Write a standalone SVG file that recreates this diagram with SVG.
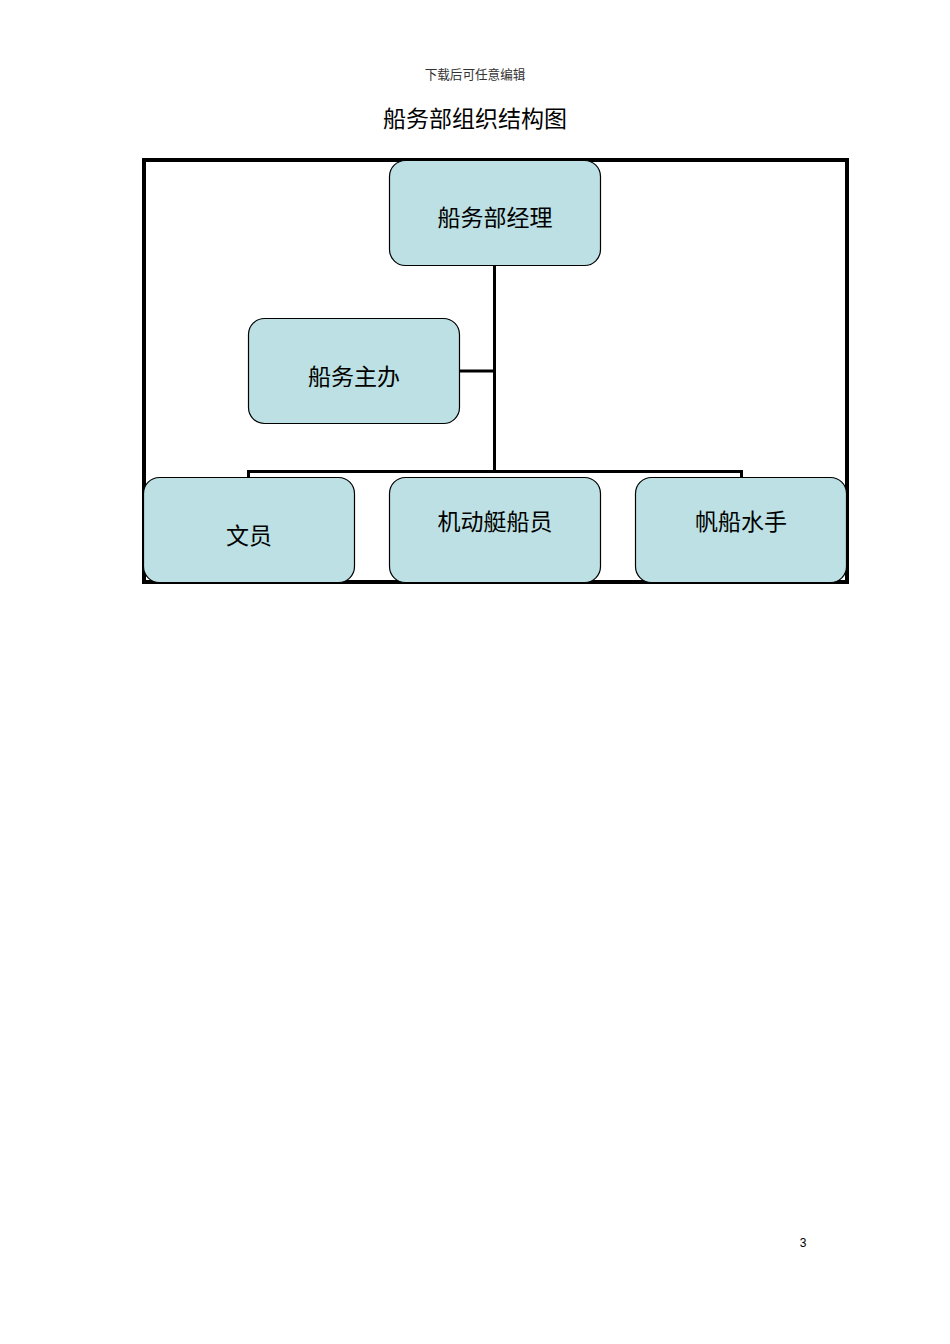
<svg xmlns="http://www.w3.org/2000/svg" width="950" height="1344" viewBox="0 0 950 1344">
<style>
.box{fill:#bce0e3;stroke:#000;stroke-width:1.2}
.lbl{font-family:"Noto Sans CJK SC","Liberation Sans",sans-serif;font-size:23px;fill:#000;text-anchor:middle;dominant-baseline:central}
.conn{fill:none;stroke:#000;stroke-width:3}
</style>
<rect width="950" height="1344" fill="#fff"/>
<text x="475" y="79" font-family="Noto Sans CJK SC, serif" font-size="12.6" fill="#333" text-anchor="middle">下载后可任意编辑</text>
<text x="475" y="127" font-family="Noto Sans CJK SC, sans-serif" font-size="23" fill="#000" text-anchor="middle">船务部组织结构图</text>
<rect id="frame" x="144" y="160" width="703" height="422" fill="none" stroke="#000" stroke-width="4"/>
<g id="connectors">
<path class="conn" d="M494.5 266 V471"/>
<path class="conn" d="M460 371 H494.5"/>
<path class="conn" d="M248.5 478 V471.5 H741.5 V478"/>
</g>
<g id="n1"><rect class="box" x="389.5" y="160.5" width="211" height="105" rx="16"/><text class="lbl" x="495" y="216">船务部经理</text></g>
<g id="n2"><rect class="box" x="248.5" y="318.5" width="211" height="105" rx="16"/><text class="lbl" x="354" y="375">船务主办</text></g>
<g id="n3"><rect class="box" x="143.5" y="477.5" width="211" height="105" rx="16"/><text class="lbl" x="249" y="534">文员</text></g>
<g id="n4"><rect class="box" x="389.5" y="477.5" width="211" height="105" rx="16"/><text class="lbl" x="495" y="520">机动艇船员</text></g>
<g id="n5"><rect class="box" x="635.5" y="477.5" width="211" height="105" rx="16"/><text class="lbl" x="741" y="520">帆船水手</text></g>
<text x="803" y="1247" font-family="Liberation Sans, sans-serif" font-size="12" fill="#000" text-anchor="middle">3</text>
</svg>
